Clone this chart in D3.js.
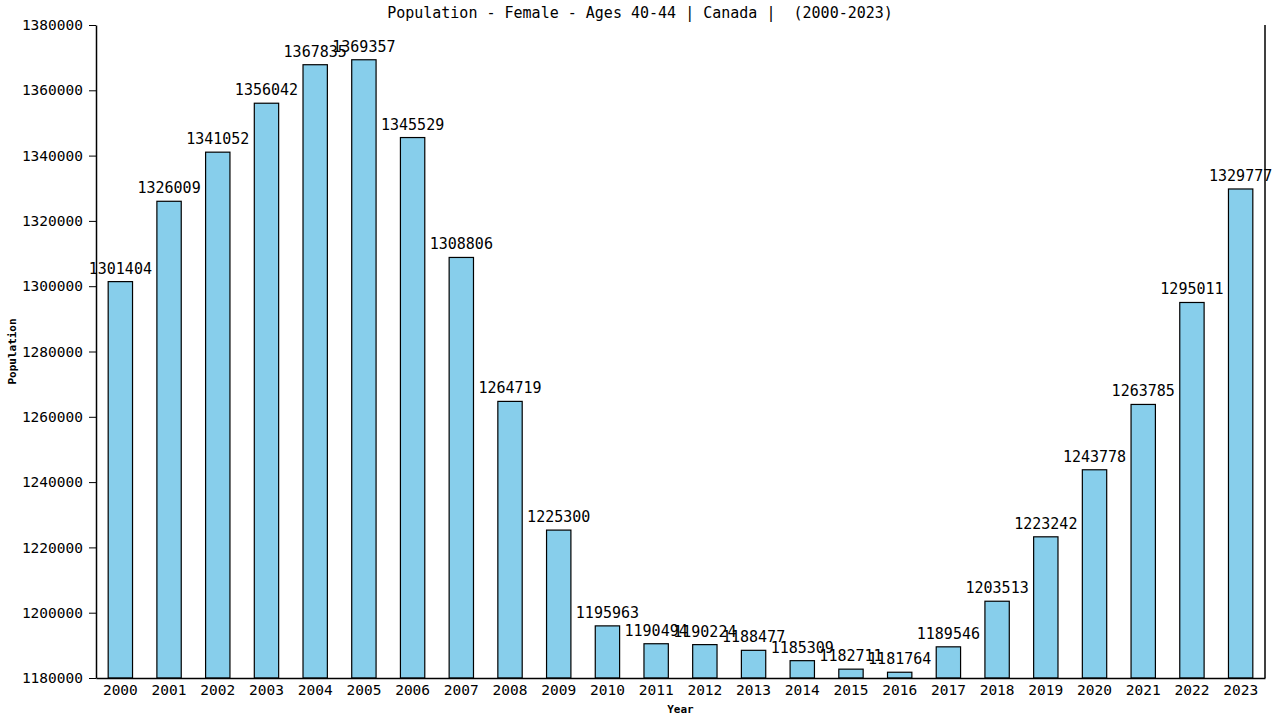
<!DOCTYPE html>
<html>
<head>
<meta charset="utf-8">
<script src="https://cdn.jsdelivr.net/npm/d3@7"></script>
<style>
  body { margin: 0; background: #fff; }
  text { font-family: "DejaVu Sans Mono", monospace; }
</style>
</head>
<body>
<div id="chart"></div>
<script>
var years = [2000, 2001, 2002, 2003, 2004, 2005, 2006, 2007, 2008, 2009, 2010, 2011,
    2012, 2013, 2014, 2015, 2016, 2017, 2018, 2019, 2020, 2021, 2022, 2023];
var population = [1301404, 1326009, 1341052, 1356042, 1367835, 1369357, 1345529, 1308806,
    1264719, 1225300, 1195963, 1190494, 1190224, 1188477, 1185309, 1182711, 1181764,
    1189546, 1203513, 1223242, 1243778, 1263785, 1295011, 1329777];
var yTicks = [1180000, 1200000, 1220000, 1240000, 1260000, 1280000, 1300000,
    1320000, 1340000, 1360000, 1380000];

var width = 1280, height = 720;
var margin = {top: 25, right: 15, bottom: 42, left: 96};

var svg = d3.select("#chart").append("svg")
    .attr("width", width)
    .attr("height", height);

var x = d3.scaleBand()
    .domain(years)
    .range([margin.left, width - margin.right])
    .paddingInner(0.5)
    .paddingOuter(0.25);

var y = d3.scaleLinear()
    .domain([1180000, 1380000])
    .range([height - margin.bottom, margin.top]);

// bars
svg.append("g")
    .selectAll("rect")
    .data(population)
    .enter().append("rect")
    .attr("x", (d, i) => x(years[i]))
    .attr("y", d => y(d))
    .attr("width", x.bandwidth())
    .attr("height", d => y.range()[0] - y(d))
    .attr("fill", "#87ceeb")
    .attr("stroke", "#000")
    .attr("stroke-width", 1.2);

// value labels
svg.append("g")
    .attr("text-anchor", "middle")
    .selectAll("text")
    .data(population)
    .enter().append("text")
    .attr("x", (d, i) => x(years[i]) + x.bandwidth() / 2)
    .attr("y", d => y(d) - 8)
    .attr("font-size", 15)
    .attr("fill", "#000")
    .text(d => d);

// axes
var xAxis = svg.append("g")
    .attr("transform", `translate(0,${height - margin.bottom})`)
    .call(d3.axisBottom(x).tickSize(0).tickPadding(7));
xAxis.selectAll("text").attr("font-size", 14.5).attr("fill", "#000")
    .style("font-family", '"DejaVu Sans Mono", monospace');
xAxis.select(".domain").attr("stroke", "#000").attr("stroke-width", 1.5);

var yAxis = svg.append("g")
    .attr("transform", `translate(${margin.left},0)`)
    .call(d3.axisLeft(y).tickValues(yTicks).tickFormat(d3.format("d")).tickSize(7).tickSizeOuter(0).tickPadding(6));
yAxis.selectAll("text").attr("font-size", 14.5).attr("fill", "#000")
    .style("font-family", '"DejaVu Sans Mono", monospace');
yAxis.select(".domain").attr("stroke", "#000").attr("stroke-width", 1.5);

// right border line
svg.append("line")
    .attr("x1", width - margin.right).attr("x2", width - margin.right)
    .attr("y1", margin.top).attr("y2", height - margin.bottom)
    .attr("stroke", "#000").attr("stroke-width", 1.5);

// title
svg.append("text")
    .attr("x", width / 2)
    .attr("y", 18)
    .attr("text-anchor", "middle")
    .attr("font-size", 15)
    .style("white-space", "pre")
    .text("Population - Female - Ages 40-44 | Canada |  (2000-2023)");

// axis titles
svg.append("text")
    .attr("x", (margin.left + width - margin.right) / 2)
    .attr("y", 713)
    .attr("text-anchor", "middle")
    .attr("font-size", 11)
    .attr("font-weight", "bold")
    .text("Year");

svg.append("text")
    .attr("transform", `translate(16,${(margin.top + height - margin.bottom) / 2}) rotate(-90)`)
    .attr("text-anchor", "middle")
    .attr("font-size", 11)
    .attr("font-weight", "bold")
    .text("Population");
</script>
</body>
</html>
